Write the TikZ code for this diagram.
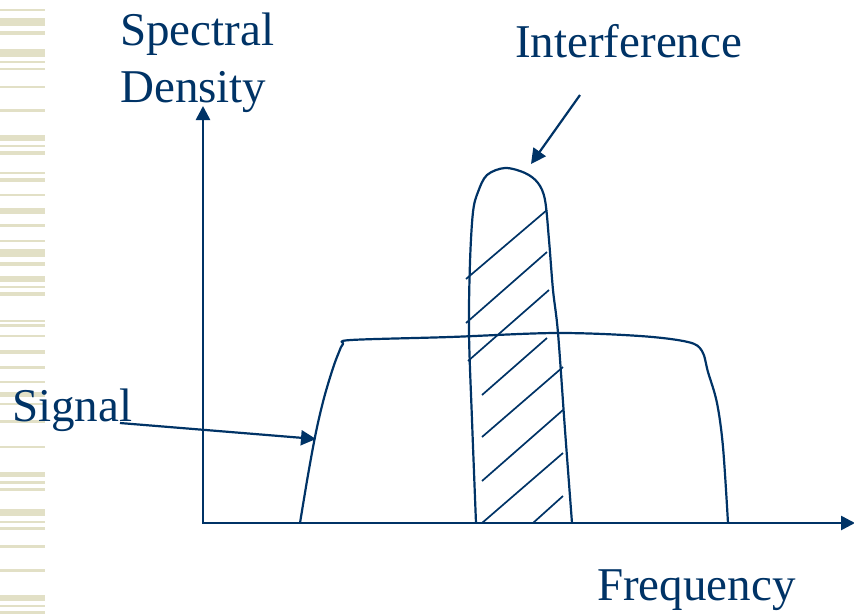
\documentclass[tikz,border=0pt]{standalone}
\usepackage{fontspec}
\setmainfont{Liberation Serif}
\usetikzlibrary{arrows.meta}
\definecolor{navy}{RGB}{0,51,102}
\definecolor{sand}{RGB}{226,224,198}
\begin{document}
\begin{tikzpicture}[x=1pt, y=-1pt,
    curve/.style={draw=navy, line width=2.2pt, line join=round},
    axis/.style={draw=navy, line width=2.6pt, -{Triangle[length=14pt, width=14pt]}},
    pointer/.style={draw=navy, line width=2.2pt, -{Triangle[length=15pt, width=15pt]}},
    hatch/.style={draw=navy, line width=1.7pt},
    lab/.style={font=\fontsize{47}{57}\selectfont, text=navy, inner sep=0pt, align=left}
  ]
  \useasboundingbox (0,0) rectangle (854,614);
  % stripes on the left edge
  \foreach \a/\b in {9/11,18/26,31/35,49/57,61/63,68/70,86/88,109/112,135/141,
      145/147,151/155,172/174,178/182,194/196,208/214,224/227,240/242,249/257,
      262/266,276/282,286/288,292/296,320/322,324/327,335/337,350/354,366/369,
      381/383,392/397,403/405,420/423,446/448,472/477,481/484,488/491,509/516,
      521/523,527/530,545/548,569/572,595/601,605/607,611/614}
    {\fill[sand] (0,\a) rectangle (45,\b);}

  % axes
  \coordinate (o) at (203,523);
  \coordinate (ytip) at (203,106);
  \coordinate (xtip) at (855,523);
  \draw[axis] (o) -- (ytip);
  \draw[axis] ([xshift=-1pt]o) -- (xtip);

  % labels
  \node[lab, anchor=base west] (dens) at (120,102) {Spectral\\Density};
  \node[lab, anchor=base west] (interf) at (515,57) {Interference};
  \node[lab, anchor=base west] (signal) at (12,421) {Signal};
  \node[lab, anchor=base west] (freq) at (597,600) {Frequency};

  % wide signal spectrum
  \draw[curve] plot[smooth, tension=0.55] coordinates {(300,523) (308,475) (316,432)
      (324,398) (333,368) (339,352) (343,344) (351,340) (450,337) (556,333)
      (640,336) (688,342) (702,351) (708,372) (717,403) (723,447) (728,523)};

  % interference bump
  \draw[curve] plot[smooth, tension=0.55] coordinates {(476,523) (472,420) (469,333)
      (470,262) (473,212) (478,192) (487,175) (505,168) (525,173) (538,183)
      (545,200) (549,240) (553,290) (558,333) (565,430) (572,523)};

  % hatching
  \foreach \xa/\ya/\xb/\yb in {466/279/547/210, 466/323/547/252, 468/361/549/290,
      482/395/547/338, 482/437/563/367, 482/481/563/410, 482/523/563/453,
      533/523/563/496}
    {\draw[hatch] (\xa,\ya) -- (\xb,\yb);}

  % pointers
  \coordinate (sigtail) at (120,423);
  \coordinate (sighead) at (316,439);
  \coordinate (inttail) at (580,95);
  \coordinate (inthead) at (531,164);
  \draw[pointer] (sigtail) -- (sighead);
  \draw[pointer] (inttail) -- (inthead);
\end{tikzpicture}
\end{document}
